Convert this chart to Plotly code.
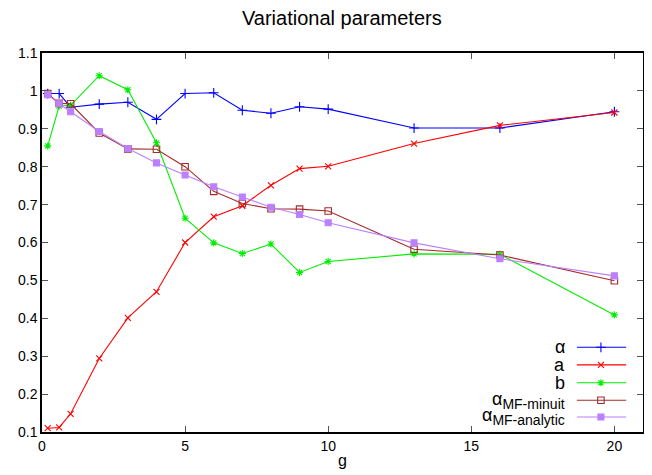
import plotly.graph_objects as go

g = [0.2, 0.6, 1, 2, 3, 4, 5, 6, 7, 8, 9, 10, 13, 16, 20]
alpha = [0.993, 0.993, 0.957, 0.965, 0.970, 0.925, 0.993, 0.995, 0.949, 0.941, 0.958, 0.952, 0.902, 0.902, 0.945]
a_vals = [0.110, 0.112, 0.148, 0.294, 0.401, 0.470, 0.600, 0.668, 0.697, 0.751, 0.795, 0.801, 0.861, 0.909, 0.943]
b_vals = [0.855, 0.960, 0.962, 1.040, 1.003, 0.863, 0.664, 0.599, 0.571, 0.596, 0.521, 0.550, 0.570, 0.569, 0.409]
mf_minuit = [0.993, 0.967, 0.966, 0.889, 0.847, 0.846, 0.800, 0.735, 0.703, 0.689, 0.688, 0.683, 0.582, 0.567, 0.499]
mf_analytic = [0.990, 0.966, 0.945, 0.893, 0.848, 0.810, 0.778, 0.747, 0.720, 0.693, 0.674, 0.652, 0.599, 0.557, 0.512]

names = ["α", "a", "b",
         "α<sub><span style='font-size:14px'>MF-minuit</span></sub>",
         "α<sub><span style='font-size:14px'>MF-analytic</span></sub>"]
series = [alpha, a_vals, b_vals, mf_minuit, mf_analytic]
colors = ["#0000ff", "#ff0000", "#00ee00", "#a52a2a", "#bb80ff"]
symbols = ["cross-thin-open", "x-thin-open", "asterisk-open", "square-open", "square"]
sizes = [7, 6, 6, 6.5, 6]

x_ticks = [0, 5, 10, 15, 20]
y_ticks = [0.1, 0.2, 0.3, 0.4, 0.5, 0.6, 0.7, 0.8, 0.9, 1.0, 1.1]
y_tick_labels = ["0.1", "0.2", "0.3", "0.4", "0.5", "0.6", "0.7", "0.8", "0.9", "1", "1.1"]

FONT = "Liberation Sans, Arial, sans-serif"

fig = go.Figure()
for name, ys, c, s, sz in zip(names, series, colors, symbols, sizes):
    fig.add_trace(go.Scatter(
        x=g, y=ys, mode="lines+markers", name=name,
        line=dict(color=c, width=1.1),
        marker=dict(symbol=s, size=sz, color=c, line=dict(color=c, width=1.1)),
        showlegend=False,
    ))

# custom legend (text on the left, sample on the right, gnuplot style)
leg_y = [0.2235, 0.177, 0.130, 0.0836, 0.0396]
for name, c, s, sz, yy in zip(names, colors, symbols, sizes, leg_y):
    fig.add_trace(go.Scatter(
        x=[0.89, 0.972], y=[yy, yy], xaxis="x2", yaxis="y2", mode="lines",
        line=dict(color=c, width=1.1), showlegend=False, hoverinfo="skip"))
    fig.add_trace(go.Scatter(
        x=[0.930], y=[yy], xaxis="x2", yaxis="y2", mode="markers",
        marker=dict(symbol=s, size=sz, color=c, line=dict(color=c, width=1.1)),
        showlegend=False, hoverinfo="skip"))
    fig.add_annotation(
        x=0.872, y=yy, xref="paper", yref="paper", xanchor="right", yanchor="middle",
        text=name, showarrow=False, borderpad=0,
        font=dict(family=FONT, size=18, color="#000000"))

axis_common = dict(
    showline=True, linecolor="#000000", linewidth=1.5, mirror="ticks",
    ticks="inside", ticklen=6, tickwidth=1, tickcolor="#555555",
    showgrid=False, zeroline=False, automargin=False,
    tickfont=dict(family=FONT, size=14, color="#000000"),
)

# the page body has an 8px default margin; margins compensate for it
fig.update_layout(
    width=652, height=475,
    margin=dict(l=34, r=17, t=45, b=51, autoexpand=False),
    plot_bgcolor="white", paper_bgcolor="white",
    title=dict(text="Variational parameters", x=0.512, xanchor="center",
               y=0.979, yanchor="middle", automargin=False,
               font=dict(family=FONT, size=20, color="#000000")),
    xaxis=dict(range=[0, 21], tickvals=x_ticks, ticktext=[str(v) for v in x_ticks],
               title=dict(text="g", standoff=2, font=dict(family=FONT, size=16, color="#000000")),
               **axis_common),
    yaxis=dict(range=[0.1, 1.1], tickvals=y_ticks, ticktext=y_tick_labels,
               **axis_common),
    xaxis2=dict(range=[0, 1], overlaying="x", visible=False, fixedrange=True),
    yaxis2=dict(range=[0, 1], overlaying="y", visible=False, fixedrange=True),
)

fig.write_html("out.html")
